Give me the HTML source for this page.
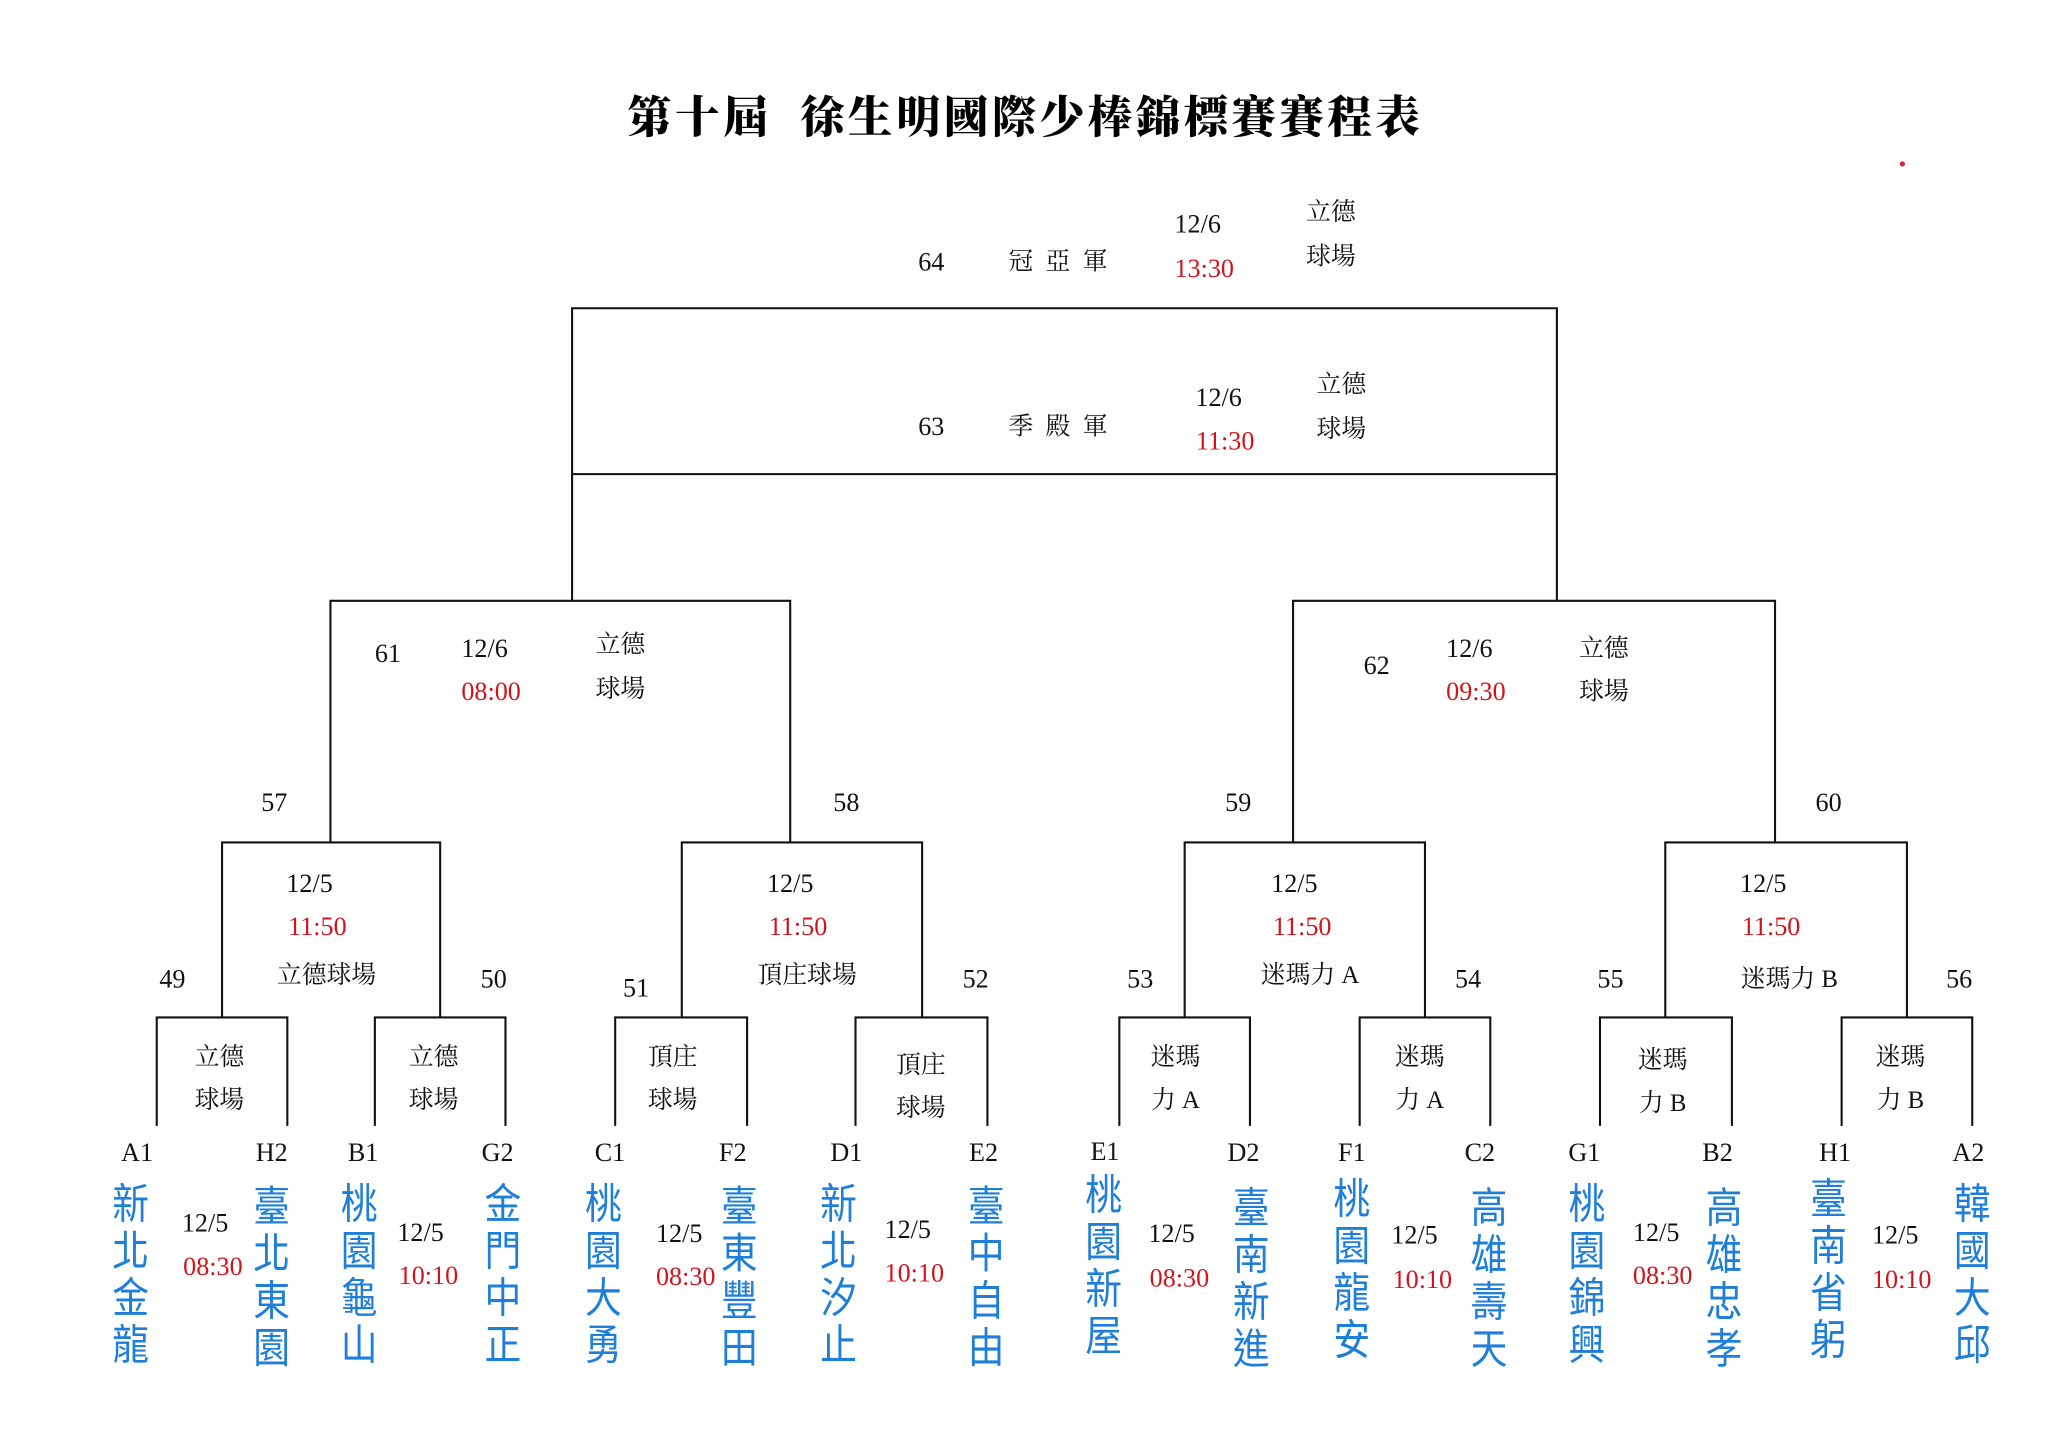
<!DOCTYPE html>
<html><head><meta charset="utf-8">
<style>
html,body{margin:0;padding:0;background:#fff;}
body{width:2048px;height:1448px;overflow:hidden;position:relative;}
#w{position:absolute;left:0;top:0;width:1568px;height:1109px;transform:scale(1.30612);transform-origin:0 0;}
.t{position:absolute;transform:translate(-50%,-50%);white-space:nowrap;font-family:"Liberation Serif","Noto Serif CJK SC",serif;font-size:20px;color:#111;line-height:1;}
.r{color:#d0141c;}
.k{font-family:"Liberation Serif","Noto Serif CJK SC",serif;font-size:19px;}
.n{position:absolute;transform:translateX(-50%) scaleX(0.88);width:40px;text-align:center;font-family:"Liberation Sans","Noto Sans CJK TC",sans-serif;font-size:32px;line-height:36px;color:#1f7fd8;}
.title{position:absolute;left:785px;top:87px;transform:translate(-50%,-50%);white-space:nowrap;font-family:"Noto Serif CJK SC",serif;font-weight:900;font-size:34px;letter-spacing:2.7px;color:#000;}
svg{position:absolute;left:0;top:0;}
</style></head><body>
<div id="w">
<svg width="1568" height="1109" viewBox="0 0 1568 1109">
<g fill="none" stroke="#111" stroke-width="1.6">
<path d="M438 460V236H1192V460"/>
<path d="M438 363H1192"/>
<path d="M253 645V460H605V645"/>
<path d="M990 645V460H1359V645"/>
<path d="M170 779V645H337V779"/>
<path d="M522 779V645H706V779"/>
<path d="M907 779V645H1091V779"/>
<path d="M1275 779V645H1460V779"/>
<path d="M120 862V779H220V862"/>
<path d="M287 862V779H387V862"/>
<path d="M471 862V779H572V862"/>
<path d="M655 862V779H756V862"/>
<path d="M857 862V779H957V862"/>
<path d="M1041 862V779H1141V862"/>
<path d="M1225 862V779H1326V862"/>
<path d="M1410 862V779H1510V862"/>
</g>
<circle cx="1456.5" cy="125.5" r="2" fill="#e0203a"/>
</svg>
<div class="title">第十屆&nbsp;&nbsp;徐生明國際少棒錦標賽賽程表</div>

<div class="t" style="left:713px;top:201px">64</div>
<div class="t k" style="left:810px;top:201px">冠 &nbsp;亞 &nbsp;軍</div>
<div class="t" style="left:917px;top:172px">12/6</div>
<div class="t r" style="left:922px;top:206px">13:30</div>
<div class="t k" style="left:1019px;top:163px">立德</div>
<div class="t k" style="left:1019px;top:197px">球場</div>

<div class="t" style="left:713px;top:327px">63</div>
<div class="t k" style="left:810px;top:327px">季 &nbsp;殿 &nbsp;軍</div>
<div class="t" style="left:933px;top:305px">12/6</div>
<div class="t r" style="left:938px;top:338px">11:30</div>
<div class="t k" style="left:1027px;top:295px">立德</div>
<div class="t k" style="left:1027px;top:329px">球場</div>

<div class="t" style="left:297px;top:501px">61</div>
<div class="t" style="left:371px;top:497px">12/6</div>
<div class="t r" style="left:376px;top:530px">08:00</div>
<div class="t k" style="left:475px;top:494px">立德</div>
<div class="t k" style="left:475px;top:528px">球場</div>

<div class="t" style="left:1054px;top:510px">62</div>
<div class="t" style="left:1125px;top:497px">12/6</div>
<div class="t r" style="left:1130px;top:530px">09:30</div>
<div class="t k" style="left:1228px;top:497px">立德</div>
<div class="t k" style="left:1228px;top:530px">球場</div>

<div class="t" style="left:210px;top:615px">57</div>
<div class="t" style="left:648px;top:615px">58</div>
<div class="t" style="left:948px;top:615px">59</div>
<div class="t" style="left:1400px;top:615px">60</div>

<div class="t" style="left:237px;top:677px">12/5</div>
<div class="t r" style="left:243px;top:710px">11:50</div>
<div class="t k" style="left:250px;top:747px">立德球場</div>
<div class="t" style="left:605px;top:677px">12/5</div>
<div class="t r" style="left:611px;top:710px">11:50</div>
<div class="t k" style="left:618px;top:747px">頂庄球場</div>
<div class="t" style="left:991px;top:677px">12/5</div>
<div class="t r" style="left:997px;top:710px">11:50</div>
<div class="t k" style="left:1003px;top:747px">迷瑪力 A</div>
<div class="t" style="left:1350px;top:677px">12/5</div>
<div class="t r" style="left:1356px;top:710px">11:50</div>
<div class="t k" style="left:1370px;top:750px">迷瑪力 B</div>

<div class="t" style="left:132px;top:750px">49</div>
<div class="t" style="left:378px;top:750px">50</div>
<div class="t" style="left:487px;top:757px">51</div>
<div class="t" style="left:747px;top:750px">52</div>
<div class="t" style="left:873px;top:750px">53</div>
<div class="t" style="left:1124px;top:750px">54</div>
<div class="t" style="left:1233px;top:750px">55</div>
<div class="t" style="left:1500px;top:750px">56</div>

<div class="t k" style="left:168px;top:810px">立德</div><div class="t k" style="left:168px;top:843px">球場</div>
<div class="t k" style="left:332px;top:810px">立德</div><div class="t k" style="left:332px;top:843px">球場</div>
<div class="t k" style="left:515px;top:810px">頂庄</div><div class="t k" style="left:515px;top:843px">球場</div>
<div class="t k" style="left:705px;top:816px">頂庄</div><div class="t k" style="left:705px;top:849px">球場</div>
<div class="t k" style="left:900px;top:810px">迷瑪</div><div class="t k" style="left:900px;top:843px">力 A</div>
<div class="t k" style="left:1087px;top:810px">迷瑪</div><div class="t k" style="left:1087px;top:843px">力 A</div>
<div class="t k" style="left:1273px;top:812px">迷瑪</div><div class="t k" style="left:1273px;top:845px">力 B</div>
<div class="t k" style="left:1455px;top:810px">迷瑪</div><div class="t k" style="left:1455px;top:843px">力 B</div>

<div class="t" style="left:105px;top:883px">A1</div>
<div class="t" style="left:208px;top:883px">H2</div>
<div class="t" style="left:278px;top:883px">B1</div>
<div class="t" style="left:381px;top:883px">G2</div>
<div class="t" style="left:467px;top:883px">C1</div>
<div class="t" style="left:561px;top:883px">F2</div>
<div class="t" style="left:648px;top:883px">D1</div>
<div class="t" style="left:753px;top:883px">E2</div>
<div class="t" style="left:846px;top:882px">E1</div>
<div class="t" style="left:952px;top:883px">D2</div>
<div class="t" style="left:1035px;top:883px">F1</div>
<div class="t" style="left:1133px;top:883px">C2</div>
<div class="t" style="left:1213px;top:883px">G1</div>
<div class="t" style="left:1315px;top:883px">B2</div>
<div class="t" style="left:1405px;top:883px">H1</div>
<div class="t" style="left:1507px;top:883px">A2</div>

<div class="n" style="left:100px;top:904px">新<br>北<br>金<br>龍</div>
<div class="n" style="left:208px;top:906px">臺<br>北<br>東<br>園</div>
<div class="n" style="left:275px;top:904px">桃<br>園<br>龜<br>山</div>
<div class="n" style="left:385px;top:904px">金<br>門<br>中<br>正</div>
<div class="n" style="left:462px;top:904px">桃<br>園<br>大<br>勇</div>
<div class="n" style="left:566px;top:906px">臺<br>東<br>豐<br>田</div>
<div class="n" style="left:642px;top:904px">新<br>北<br>汐<br>止</div>
<div class="n" style="left:755px;top:906px">臺<br>中<br>自<br>由</div>
<div class="n" style="left:845px;top:897px">桃<br>園<br>新<br>屋</div>
<div class="n" style="left:958px;top:907px">臺<br>南<br>新<br>進</div>
<div class="n" style="left:1035px;top:900px">桃<br>園<br>龍<br>安</div>
<div class="n" style="left:1140px;top:907px">高<br>雄<br>壽<br>天</div>
<div class="n" style="left:1215px;top:904px">桃<br>園<br>錦<br>興</div>
<div class="n" style="left:1320px;top:907px">高<br>雄<br>忠<br>孝</div>
<div class="n" style="left:1400px;top:900px">臺<br>南<br>省<br>躬</div>
<div class="n" style="left:1510px;top:904px">韓<br>國<br>大<br>邱</div>

<div class="t" style="left:157px;top:937px">12/5</div><div class="t r" style="left:163px;top:970px">08:30</div>
<div class="t" style="left:322px;top:944px">12/5</div><div class="t r" style="left:328px;top:977px">10:10</div>
<div class="t" style="left:520px;top:945px">12/5</div><div class="t r" style="left:525px;top:978px">08:30</div>
<div class="t" style="left:695px;top:942px">12/5</div><div class="t r" style="left:700px;top:975px">10:10</div>
<div class="t" style="left:897px;top:945px">12/5</div><div class="t r" style="left:903px;top:979px">08:30</div>
<div class="t" style="left:1083px;top:946px">12/5</div><div class="t r" style="left:1089px;top:980px">10:10</div>
<div class="t" style="left:1268px;top:944px">12/5</div><div class="t r" style="left:1273px;top:977px">08:30</div>
<div class="t" style="left:1451px;top:946px">12/5</div><div class="t r" style="left:1456px;top:980px">10:10</div>
</div>
</body></html>
